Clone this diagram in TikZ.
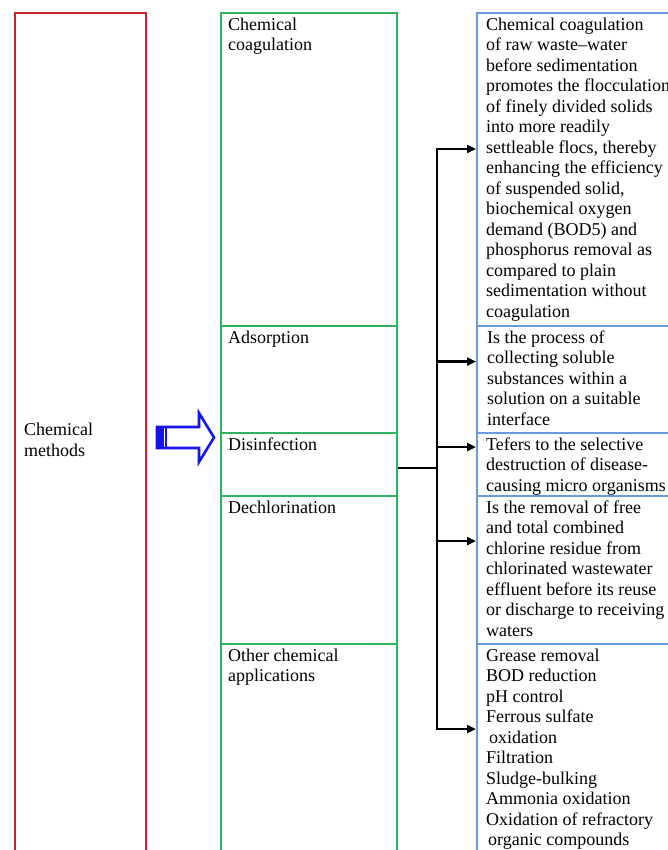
\documentclass[tikz,border=0pt]{standalone}
\usepackage{fontspec}
\setmainfont{Liberation Serif}
\usetikzlibrary{arrows.meta, positioning}
\definecolor{methodred}{RGB}{200, 35, 45}
\definecolor{groupgreen}{RGB}{45, 180, 95}
\definecolor{noteblue}{RGB}{105, 155, 220}
\definecolor{pointblue}{RGB}{20, 20, 235}

\begin{document}
\begin{tikzpicture}[
        x=1pt, y=-1pt,
        outer/.style={rectangle, draw=methodred, line width=2pt, minimum width=131pt, minimum height=870pt, inner sep=0pt, anchor=north west},
        group/.style={rectangle, draw=groupgreen, line width=2pt, minimum width=176pt, inner sep=0pt, anchor=north west},
        note/.style={rectangle, draw=noteblue, line width=2pt, minimum width=230pt, inner sep=0pt, anchor=north west},
        txt/.style={anchor=north west, inner sep=0pt, align=left, font=\rmfamily\fontsize{18}{20.5}\selectfont},
        arrow/.style={-{Triangle[length=9pt, width=8pt]}, line width=2.4pt}
    ]
        \useasboundingbox (0,0) rectangle (668,850);
        \clip (0,0) rectangle (668,850);

        % Left column
        \node (methods) [outer] at (14,12) {};
        \node (methodsT) [txt] at (24,423) {Chemical\\methods};

        % Middle column
        \node (coag) [group, minimum height=313pt] at (220,12) {};
        \node (adsorp) [group, minimum height=107pt] at (220,325) {};
        \node (disinf) [group, minimum height=63pt] at (220,432) {};
        \node (dechlor) [group, minimum height=148pt] at (220,495) {};
        \node (other) [group, minimum height=230pt] at (220,643) {};

        \node (coagT) [txt] at ([shift={(8,5.5)}]coag.north west) {Chemical\\coagulation};
        \node (adsorpT) [txt] at ([shift={(8,5.5)}]adsorp.north west) {Adsorption};
        \node (disinfT) [txt] at ([shift={(8,5.5)}]disinf.north west) {Disinfection};
        \node (dechlorT) [txt] at ([shift={(8,5.5)}]dechlor.north west) {Dechlorination};
        \node (otherT) [txt] at ([shift={(8,5.5)}]other.north west) {Other chemical\\applications};

        % Right column
        \node (coagNote) [note, minimum height=313pt] at (476,12) {};
        \node (adsorpNote) [note, minimum height=107pt] at (476,325) {};
        \node (disinfNote) [note, minimum height=63pt] at (476,432) {};
        \node (dechlorNote) [note, minimum height=148pt] at (476,495) {};
        \node (otherNote) [note, minimum height=230pt] at (476,643) {};

        \node (coagNoteT) [txt] at ([shift={(10,5.5)}]coagNote.north west) {Chemical coagulation\\of raw waste\textendash water\\before sedimentation\\promotes the flocculation\\of finely divided solids\\into more readily\\settleable flocs, thereby\\enhancing the efficiency\\of suspended solid,\\biochemical oxygen\\demand (BOD5) and\\phosphorus removal as\\compared to plain\\sedimentation without\\coagulation};
        \node (adsorpNoteT) [txt] at ([shift={(11,5.5)}]adsorpNote.north west) {Is the process of\\collecting soluble\\substances within a\\solution on a suitable\\interface};
        \node (disinfNoteT) [txt] at ([shift={(10,5.5)}]disinfNote.north west) {Tefers to the selective\\destruction of disease-\\causing micro organisms};
        \node (dechlorNoteT) [txt] at ([shift={(10,5.5)}]dechlorNote.north west) {Is the removal of free\\and total combined\\chlorine residue from\\chlorinated wastewater\\effluent before its reuse\\or discharge to receiving\\waters};
        \node (otherNoteT) [txt] at ([shift={(10,5.5)}]otherNote.north west) {Grease removal\\BOD reduction\\pH control\\Ferrous sulfate\\\hspace{3pt}oxidation\\Filtration\\Sludge-bulking\\Ammonia oxidation\\Oxidation of refractory\\\hspace{2pt}organic compounds};

        % Hollow pointer
        \draw [pointblue, line width=2.6pt, line join=miter, fill=white] (157,427) -- (199,427) -- (199,413) -- (214,437.5) -- (199,462) -- (199,448) -- (157,448) -- cycle;
        \fill [pointblue] (157,427) rectangle (164,448);
        \draw [pointblue, line width=1.5pt] (166,427) -- (166,448);

        % Connecting Arrows
        \coordinate (jn) at ([xshift=39pt, yshift=-3.5pt]disinf.east);
        \draw [line width=2.4pt] (jn -| disinf.east) -- (jn);
        \draw [arrow] (jn) |- ([yshift=20.5pt]coagNote.west);
        \draw [arrow] (jn) |- ([yshift=18pt]adsorpNote.west);
        \draw [arrow] (jn) |- ([yshift=17.5pt]disinfNote.west);
        \draw [arrow] (jn) |- ([yshift=29pt]dechlorNote.west);
        \draw [arrow] (jn) |- ([yshift=30pt]otherNote.west);
    \end{tikzpicture}
\end{document}
